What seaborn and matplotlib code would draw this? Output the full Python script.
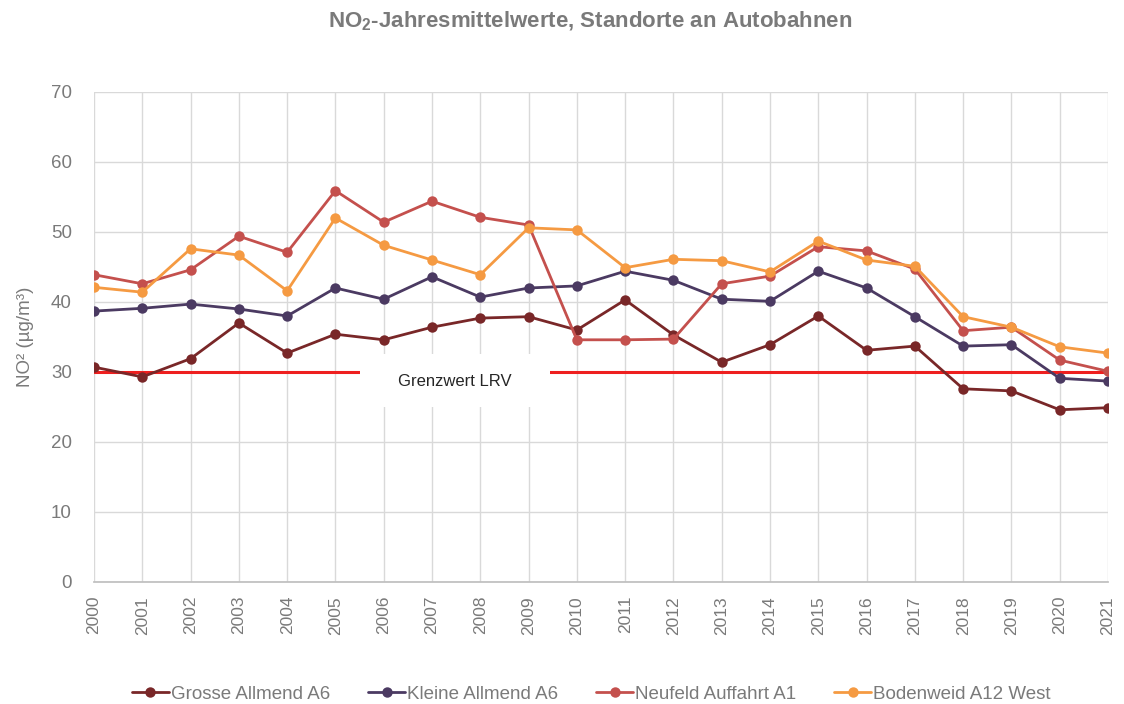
import matplotlib
matplotlib.use("Agg")
import matplotlib.pyplot as plt
from matplotlib.patches import Rectangle
import seaborn as sns
import pandas as pd

years = list(range(2000, 2022))
grosse_allmend = [30.7, 29.3, 31.9, 37.0, 32.7, 35.4, 34.6, 36.4, 37.7, 37.9, 36.0,
                  40.3, 35.3, 31.4, 33.9, 38.0, 33.1, 33.7, 27.6, 27.3, 24.6, 24.9]
kleine_allmend = [38.7, 39.1, 39.7, 39.0, 38.0, 42.0, 40.4, 43.6, 40.7, 42.0, 42.3,
                  44.4, 43.1, 40.4, 40.1, 44.4, 42.0, 37.9, 33.7, 33.9, 29.1, 28.7]
neufeld = [43.9, 42.6, 44.6, 49.4, 47.1, 55.9, 51.4, 54.4, 52.1, 51.0, 34.6,
           34.6, 34.7, 42.6, 43.7, 47.9, 47.3, 44.7, 35.9, 36.4, 31.7, 30.1]
bodenweid = [42.1, 41.4, 47.6, 46.7, 41.6, 52.0, 48.1, 46.0, 43.9, 50.6, 50.3,
             44.9, 46.1, 45.9, 44.3, 48.7, 46.0, 45.1, 37.9, 36.4, 33.6, 32.7]
series_names = ["Grosse Allmend A6", "Kleine Allmend A6", "Neufeld Auffahrt A1", "Bodenweid A12 West"]
limit_value = 30
limit_label = "Grenzwert LRV"

colors = ["#792728", "#4B3A62", "#C4504D", "#F59A42"]

sns.set_theme(style="white")
plt.rcParams['font.family'] = ['Liberation Sans', 'DejaVu Sans']
plt.rcParams['mathtext.fontset'] = 'custom'
plt.rcParams['mathtext.rm'] = 'Liberation Sans:bold'
plt.rcParams['mathtext.it'] = 'Liberation Sans:bold'
plt.rcParams['mathtext.bf'] = 'Liberation Sans:bold'

frames = []
for name, vals in zip(series_names, [grosse_allmend, kleine_allmend, neufeld, bodenweid]):
    frames.append(pd.DataFrame({"Jahr": years, "Wert": vals, "Standort": name}))
df = pd.concat(frames, ignore_index=True)

fig = plt.figure(figsize=(11.24, 7.04), dpi=100)
ax = fig.add_axes([94/1124, 1-582/704, (1108-94)/1124, (582-92)/704])

grey = "#7A7A7A"
ax.set_xlim(2000, 2021)
ax.set_ylim(0, 70)
ax.set_yticks(range(0, 71, 10))
ax.set_xticks(years)
ax.set_xticklabels([str(y) for y in years], rotation=90)
ax.grid(True, color="#D9D9D9", linewidth=1, zorder=0)
ax.set_axisbelow(True)
for s in ["top", "right", "left"]:
    ax.spines[s].set_visible(False)
ax.spines["bottom"].set_color("#BFBFBF")
ax.tick_params(axis="x", colors=grey, labelsize=12.5, length=0, pad=10)
ax.tick_params(axis="y", colors=grey, labelsize=13.5, length=0, pad=16)

ax.axhline(limit_value, color="#EE1F1F", linewidth=2.2, zorder=1.5)
# white label box over the limit line
ax.add_patch(Rectangle((2005.51, 25.0), 3.93, 7.6, facecolor="white", edgecolor="none", zorder=1.8))
ax.text(2007.48, 28.7, limit_label, ha="center", va="center", fontsize=12, color="#262626", zorder=2)

sns.lineplot(data=df, x="Jahr", y="Wert", hue="Standort", palette=colors,
             marker="o", markersize=7.5, markeredgewidth=0, linewidth=2,
             ax=ax, legend=True, zorder=3)

ax.set_xlabel("")
ax.set_ylabel("NO² (µg/m³)", color=grey, fontsize=13.5, labelpad=12)

handles, labels = ax.get_legend_handles_labels()
ax.get_legend().remove()
fig.legend(handles, labels, loc="center", bbox_to_anchor=(0.526, 1-694/704), ncol=4,
           frameon=False, fontsize=13.5, labelcolor=grey, handlelength=2.0,
           handletextpad=0.1, columnspacing=2.0)

fig.text(0.525, 1-21/704, "NO$_2$-Jahresmittelwerte, Standorte an Autobahnen",
         ha="center", va="center", fontsize=16, fontweight="bold", color="#7A7A7A")

fig.savefig("out.png", dpi=100, facecolor="white")
